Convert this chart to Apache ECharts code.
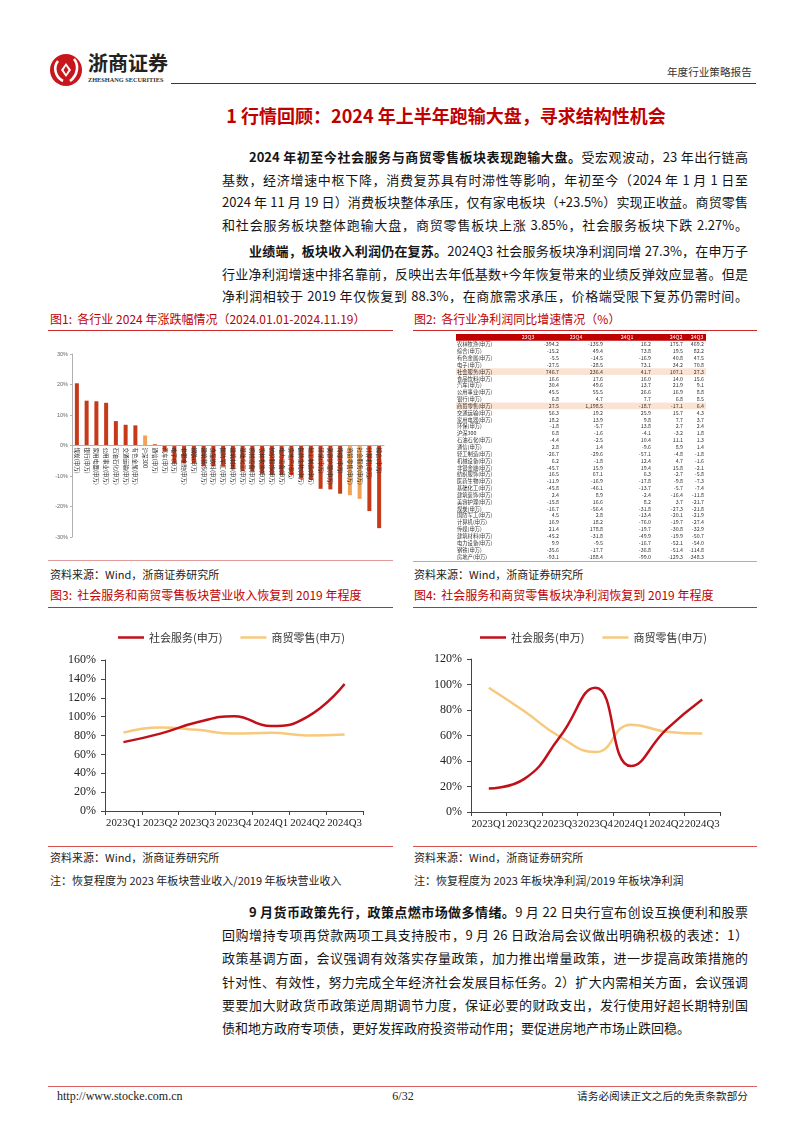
<!DOCTYPE html>
<html><head><meta charset="utf-8">
<script src="https://cdn.jsdelivr.net/npm/echarts@6/dist/echarts.min.js"></script>
<style>
html,body{margin:0;padding:0;background:#fff;}
body{width:802px;height:1133px;position:relative;overflow:hidden;font-family:"Noto Sans CJK SC",sans-serif;color:#151515;}
.abs{position:absolute;}
.ln{position:absolute;left:222px;width:526px;height:20px;line-height:20px;font-size:13px;text-align:justify;text-align-last:justify;}
.ind{left:249px;width:499px;}
.cap{position:absolute;font-size:12px;line-height:16px;height:16px;color:#c00000;white-space:nowrap;}
.src{position:absolute;font-size:11px;line-height:16px;height:16px;color:#222;white-space:nowrap;}
.rl{position:absolute;height:0;border-top:1.5px solid #cc2a2a;}
.pl{position:absolute;height:0;border-top:1px solid #e09a9a;}
.ch{position:absolute;}
</style></head>
<body>
<!-- header -->
<svg class="abs" style="left:49px;top:53px" width="34" height="34" viewBox="0 0 34 34">
  <circle cx="17" cy="17" r="16" fill="#c8161d"/>
  <path d="M9 8 C 4 14, 6 24, 14 28" stroke="#fff" stroke-width="2.6" fill="none"/>
  <path d="M25 6 C 30 12, 29 22, 21 28" stroke="#fff" stroke-width="2.6" fill="none"/>
  <path d="M17 10 L22 17 L17 24 L12 17 Z" fill="#fff"/>
  <path d="M17 13 L19.5 17 L17 21 L14.5 17 Z" fill="#c8161d"/>
</svg>
<div class="abs" style="left:88px;top:51px;font-size:20px;line-height:24px;font-weight:700;color:#222;">浙商证券</div>
<div class="abs" style="left:88px;top:76px;font-size:6.3px;line-height:8px;font-weight:700;font-family:'Liberation Serif',serif;color:#333;white-space:nowrap;">ZHESHANG SECURITIES</div>
<div class="rl" style="left:171px;top:82.5px;width:585px;border-top:1.5px solid #c00000;"></div>
<div class="abs" style="left:667px;top:65px;font-size:10.6px;line-height:14px;color:#333;white-space:nowrap;">年度行业策略报告</div>

<div class="abs" style="left:0;width:892px;top:104px;font-size:18px;line-height:22px;font-weight:700;color:#c00000;text-align:center;white-space:nowrap;">1 行情回顾：2024 年上半年跑输大盘，寻求结构性机会</div>

<div class="ln ind" style="top:147px;"><b>2024 年初至今社会服务与商贸零售板块表现跑输大盘。</b>受宏观波动，23 年出行链高</div>
<div class="ln" style="top:169.5px;">基数，经济增速中枢下降，消费复苏具有时滞性等影响，年初至今（2024 年 1 月 1 日至</div>
<div class="ln" style="top:192px;">2024 年 11 月 19 日）消费板块整体承压，仅有家电板块（+23.5%）实现正收益。商贸零售</div>
<div class="ln" style="top:214.5px;">和社会服务板块整体跑输大盘，商贸零售板块上涨 3.85%，社会服务板块下跌 2.27%。</div>
<div class="ln ind" style="top:241px;"><b>业绩端，板块收入利润仍在复苏。</b>2024Q3 社会服务板块净利润同增 27.3%，在申万子</div>
<div class="ln" style="top:263.5px;">行业净利润增速中排名靠前，反映出去年低基数+今年恢复带来的业绩反弹效应显著。但是</div>
<div class="ln" style="top:286px;">净利润相较于 2019 年仅恢复到 88.3%，在商旅需求承压，价格端受限下复苏仍需时间。</div>

<!-- fig 1 / 2 frames -->
<div class="cap" style="left:50px;top:311px;">图1:&nbsp;&nbsp;各行业 2024 年涨跌幅情况（2024.01.01-2024.11.19）</div>
<div class="cap" style="left:414px;top:311px;">图2:&nbsp;&nbsp;各行业净利润同比增速情况（%）</div>
<div class="rl" style="left:48px;top:330px;width:345px;"></div>
<div class="rl" style="left:413px;top:330px;width:344px;"></div>
<div id="c1" class="ch" style="left:40px;top:340px;width:360px;height:215px;"></div>
<div id="c2" class="ch" style="left:450px;top:334px;width:262px;height:227px;"></div>
<div class="pl" style="left:48px;top:560px;width:345px;"></div>
<div class="pl" style="left:413px;top:561px;width:344px;"></div>
<div class="src" style="left:50px;top:566px;">资料来源：Wind，浙商证券研究所</div>
<div class="src" style="left:414px;top:566px;">资料来源：Wind，浙商证券研究所</div>

<!-- fig 3 / 4 frames -->
<div class="cap" style="left:50px;top:587px;">图3:&nbsp;&nbsp;社会服务和商贸零售板块营业收入恢复到 2019 年程度</div>
<div class="cap" style="left:414px;top:587px;">图4:&nbsp;&nbsp;社会服务和商贸零售板块净利润恢复到 2019 年程度</div>
<div class="rl" style="left:48px;top:607px;width:345px;"></div>
<div class="rl" style="left:413px;top:607px;width:344px;"></div>
<div id="c3" class="ch" style="left:40px;top:620px;width:360px;height:222px;"></div>
<div id="c4" class="ch" style="left:410px;top:620px;width:360px;height:222px;"></div>
<div class="rl" style="left:48px;top:845.5px;width:345px;border-top-color:#d65050;"></div>
<div class="rl" style="left:413px;top:845.5px;width:344px;border-top-color:#d65050;"></div>
<div class="src" style="left:50px;top:849px;">资料来源：Wind，浙商证券研究所</div>
<div class="src" style="left:414px;top:849px;">资料来源：Wind，浙商证券研究所</div>
<div class="src" style="left:50px;top:872px;">注：恢复程度为 2023 年板块营业收入/2019 年板块营业收入</div>
<div class="src" style="left:414px;top:872px;">注：恢复程度为 2023 年板块净利润/2019 年板块净利润</div>

<div class="ln ind" style="top:902px;"><b>9 月货币政策先行，政策点燃市场做多情绪。</b>9 月 22 日央行宣布创设互换便利和股票</div>
<div class="ln" style="top:925px;">回购增持专项再贷款两项工具支持股市，9 月 26 日政治局会议做出明确积极的表述：1）</div>
<div class="ln" style="top:948px;">政策基调方面，会议强调有效落实存量政策，加力推出增量政策，进一步提高政策措施的</div>
<div class="ln" style="top:971.5px;">针对性、有效性，努力完成全年经济社会发展目标任务。2）扩大内需相关方面，会议强调</div>
<div class="ln" style="top:994.5px;">要要加大财政货币政策逆周期调节力度，保证必要的财政支出，发行使用好超长期特别国</div>
<div class="ln" style="top:1018px;text-align-last:left;">债和地方政府专项债，更好发挥政府投资带动作用；要促进房地产市场止跌回稳。</div>

<div class="pl" style="left:48px;top:1086px;width:709px;border-top:1.5px solid #d96060;"></div>
<div class="abs" style="left:57px;top:1088px;font-family:'Liberation Serif',serif;font-size:12px;line-height:16px;color:#222;">http://www.stocke.com.cn</div>
<div class="abs" style="left:383px;width:40px;text-align:center;top:1088px;font-family:'Liberation Serif',serif;font-size:12px;line-height:16px;color:#222;">6/32</div>
<div class="abs" style="left:577px;top:1088px;font-size:10.7px;line-height:16px;color:#222;white-space:nowrap;">请务必阅读正文之后的免责条款部分</div>

<script>
// ---------- Figure 1 data ----------
const f1Names = ['煤炭(申万)','银行(申万)','家用电器(申万)','公用事业(申万)','石油石化(申万)','交通运输(申万)','有色金属(申万)','沪深300','通信(申万)','汽车(申万)','电子(申万)','非银金融(申万)','钢铁(申万)','建筑装饰(申万)','食品饮料(申万)','国防军工(申万)','建筑材料(申万)','基础化工(申万)','机械设备(申万)','农林牧渔(申万)','纺织服饰(申万)','电力设备(申万)','房地产(申万)','医药生物(申万)','轻工制造(申万)','环保(申万)','美容护理(申万)','传媒(申万)','商贸零售(申万)','社会服务(申万)','计算机(申万)','综合(申万)'];
const f1Values = [20.4,14.7,14.5,14.0,8.0,6.8,6.6,3.3,0.4,-2.0,-5.8,-5.8,-5.8,-6.7,-6.7,-6.9,-7.8,-8.4,-8.6,-9.3,-9.7,-9.7,-9.7,-10.9,-11.3,-14.2,-14.4,-15.8,-16.3,-17.5,-21.5,-27.1];
const f1Highlight = ['沪深300','商贸零售(申万)','社会服务(申万)'];
const f1Ticks = [-30,30,10];

// ---------- Figure 2 data ----------
const tblHeaders = ['23Q3','23Q4','24Q1','24Q2','24Q3'];
const tblRows = ['农林牧渔(申万)','综合(申万)','有色金属(申万)','电子(申万)','社会服务(申万)','食品饮料(申万)','汽车(申万)','公用事业(申万)','银行(申万)','商贸零售(申万)','交通运输(申万)','家用电器(申万)','环保(申万)','沪深300','石油石化(申万)','通信(申万)','轻工制造(申万)','机械设备(申万)','非银金融(申万)','纺织服饰(申万)','医药生物(申万)','基础化工(申万)','建筑装饰(申万)','美容护理(申万)','煤炭(申万)','国防军工(申万)','计算机(申万)','传媒(申万)','建筑材料(申万)','电力设备(申万)','钢铁(申万)','房地产(申万)'];
const tbl23Q3 = [-394.2,-15.2,-5.5,-27.5,746.7,16.6,30.4,45.5,6.8,27.5,56.3,18.2,-1.8,6.8,-4.4,2.8,-26.7,6.2,-45.7,16.5,-11.9,-45.8,2.4,-15.8,-16.7,4.5,16.9,21.4,-45.2,9.9,-35.6,-93.1];
const tbl23Q4 = [-135.9,49.4,-14.5,-28.5,236.4,17.6,49.6,55.5,4.7,1198.5,19.2,13.9,-5.7,-1.6,-2.5,1.4,-29.6,-1.8,15.9,67.1,-16.9,-46.1,8.9,16.6,-56.4,2.8,18.2,178.8,-31.8,-9.5,-17.7,-188.4];
const tbl24Q1 = [16.2,73.8,-16.9,73.1,41.7,16.0,13.7,26.6,7.7,-18.7,25.9,9.8,13.8,-4.1,10.4,-9.6,-57.1,12.4,19.4,6.3,-17.8,-13.7,-2.4,8.2,-31.8,-13.4,-76.0,-19.7,-49.9,-16.7,-36.8,-99.0];
const tbl24Q2 = [175.7,19.5,40.8,34.2,107.1,14.0,21.9,16.9,6.8,-17.1,15.7,7.7,2.7,-3.2,11.1,8.9,-4.8,4.7,15.8,-2.7,-9.8,-5.7,-16.4,3.7,-27.3,-20.1,-19.7,-30.8,-19.9,-52.1,-51.4,-129.3];
const tbl24Q3 = [469.2,82.2,47.5,70.8,27.3,15.6,9.1,8.8,8.5,6.4,4.3,3.7,2.4,1.8,1.3,1.4,-1.8,-1.6,-2.1,-5.8,-7.3,-7.4,-11.8,-21.7,-21.8,-21.9,-27.4,-32.9,-50.7,-54.0,-114.8,-348.3];
const tblHighlight = ['社会服务(申万)','商贸零售(申万)'];

// ---------- Figure 3 / 4 data ----------
const qCats = ['2023Q1','2023Q2','2023Q3','2023Q4','2024Q1','2024Q2','2024Q3'];
const seriesNames = ['社会服务(申万)','商贸零售(申万)'];
const revSocial = [73, 82, 94, 100.5, 90, 100, 134.5];
const revRetail = [83, 88.5, 86, 82, 83, 80, 81];
const profSocial = [18.4, 26, 59, 97.5, 36, 65, 88.3];
const profRetail = [97.5, 79, 59, 47, 68.5, 63, 61.5];

// ================= Figure 1 =================
const c1 = echarts.init(document.getElementById('c1'));
c1.setOption({
  animation:false,
  grid:{left:32, top:14, width:312, height:183, outerBoundsMode:'none', containLabel:false},
  xAxis:{type:'category', data:f1Names, z:10,
    axisLine:{onZero:true, lineStyle:{color:'#b0b0b0', width:1}},
    axisTick:{show:false},
    axisLabel:{show:false}},
  yAxis:{type:'value', min:f1Ticks[0], max:f1Ticks[1], interval:f1Ticks[2],
    splitLine:{show:false},
    axisLine:{show:true, lineStyle:{color:'#b0b0b0'}},
    axisTick:{show:true, length:2, lineStyle:{color:'#b0b0b0'}},
    axisLabel:{formatter:'{value}%', fontSize:5.5, color:'#666', margin:4, fontFamily:'Liberation Sans'}},
  series:[
    {type:'bar', barWidth:4,
     data:f1Values.map((v,i)=>({value:v, itemStyle:{color: f1Highlight.includes(f1Names[i]) ? '#f0a358' : '#c63a1a'}}))},
    {type:'custom', z:10, silent:true, data:f1Names.map((n,i)=>[i,0]),
     renderItem:(params, api)=>{
       const p = api.coord([api.value(0), 0]);
       return {type:'text', x:p[0], y:p[1]+2, rotation:-Math.PI/2,
         style:{text:f1Names[params.dataIndex], fill:'#333', fontSize:5.6, fontFamily:'Noto Sans CJK SC', align:'left', verticalAlign:'middle'}};
     }}
  ]
});

// ================= Figure 2 (table) =================
const tblColsData = [tbl23Q3, tbl23Q4, tbl24Q1, tbl24Q2, tbl24Q3];
const labelX = 1;
const valueRightX = [103, 147, 195, 227, 248];
const headerCenterX = [72, 120, 171, 220, 241];
function fmt(v){ return v.toLocaleString('en-US',{minimumFractionDigits:1, maximumFractionDigits:1}); }
const cells = [];
tblHeaders.forEach((h,j)=>cells.push({x:headerCenterX[j], row:0, text:h, align:'center', fill:'#fff'}));
tblRows.forEach((name,i)=>{
  cells.push({x:labelX, row:i+1, text:name, align:'left', fill:'#333'});
  tblColsData.forEach((col,j)=>cells.push({x:valueRightX[j], row:i+1, text:fmt(col[i]), align:'right', fill:'#333'}));
});
const bands = [{row:0, fill:'#c00000'}];
tblRows.forEach((name,i)=>{ if(tblHighlight.includes(name)) bands.push({row:i+1, fill:'#fbe3d3'}); });
const c2 = echarts.init(document.getElementById('c2'));
c2.setOption({
  animation:false,
  grid:{left:6, top:0, width:250, height:226, outerBoundsMode:'none', containLabel:false},
  xAxis:{type:'value', min:0, max:250, show:false},
  yAxis:{type:'category', data:[''].concat(tblRows), inverse:true, show:false},
  series:[
    {type:'custom', data:bands.map(b=>[0,b.row]), silent:true,
     renderItem:(params, api)=>{
       const b = bands[params.dataIndex];
       const p0 = api.coord([0, b.row]); const p1 = api.coord([250, b.row]);
       const h = api.size([0,1])[1];
       return {type:'rect', shape:{x:p0[0], y:p0[1]-h/2, width:p1[0]-p0[0], height:h}, style:{fill:b.fill}};
     }},
    {type:'custom', data:cells.map(c=>[c.x, c.row]), silent:true, z:5,
     renderItem:(params, api)=>{
       const c = cells[params.dataIndex];
       const p = api.coord([c.x, c.row]);
       return {type:'text', x:p[0], y:p[1], style:{text:c.text, fill:c.fill, fontSize:5.3, fontFamily:'Noto Sans CJK SC', align:c.align, verticalAlign:'middle'}};
     }}
  ]
});

// ================= Figure 3 / 4 =================
function lineOpt(legendLeft, gridLeft, gridTop, gridW, gridH, maxV, s1, s2){
  return {
    animation:false,
    legend:{data:seriesNames, left:legendLeft, top:7, icon:'rect', itemWidth:26, itemHeight:2.5, itemGap:18,
      textStyle:{fontSize:11, color:'#333', fontFamily:'Noto Sans CJK SC'}},
    grid:{left:gridLeft, top:gridTop, width:gridW, height:gridH, outerBoundsMode:'none', containLabel:false},
    xAxis:{type:'category', data:qCats, boundaryGap:true,
      axisLine:{lineStyle:{color:'#444', width:1}},
      axisTick:{show:true, length:4, lineStyle:{color:'#444'}},
      axisLabel:{interval:0, fontSize:10.8, color:'#222', margin:7, fontFamily:'Liberation Serif'}},
    yAxis:{type:'value', min:0, max:maxV, interval:20, splitLine:{show:false},
      axisLine:{show:true, lineStyle:{color:'#444', width:1}},
      axisTick:{show:true, length:4, lineStyle:{color:'#444'}},
      axisLabel:{formatter:'{value}%', fontSize:12, color:'#222', margin:9, fontFamily:'Liberation Serif'}},
    series:[
      {name:seriesNames[0], type:'line', smooth:true, symbol:'none', data:s1, lineStyle:{color:'#c0101a', width:2.5}, itemStyle:{color:'#c0101a'}, z:3},
      {name:seriesNames[1], type:'line', smooth:true, symbol:'none', data:s2, lineStyle:{color:'#f7c97c', width:2.5}, itemStyle:{color:'#f7c97c'}, z:2}
    ]
  };
}
const c3 = echarts.init(document.getElementById('c3'));
c3.setOption(lineOpt(73, 65, 40, 258, 151, 160, revSocial, revRetail));
const c4 = echarts.init(document.getElementById('c4'));
c4.setOption(lineOpt(65, 61, 39, 249, 153, 120, profSocial, profRetail));
</script>
</body></html>
